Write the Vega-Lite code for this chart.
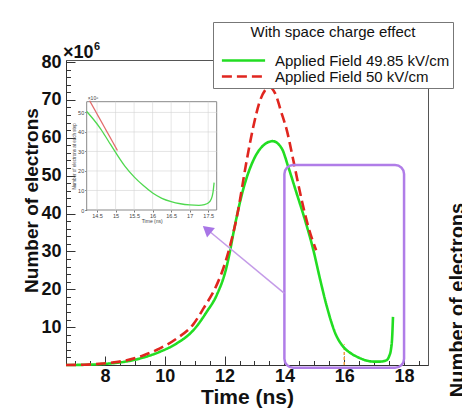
{
  "$schema": "https://vega.github.io/schema/vega-lite/v6.json",
  "autosize": "none",
  "width": 362,
  "height": 305,
  "padding": {"left": 66, "top": 60, "right": 34, "bottom": 44},
  "background": "#ffffff",
  "config": {
    "view": {"stroke": "#555555", "strokeWidth": 1},
    "font": "Liberation Sans",
    "axis": {"labelFont": "Liberation Sans", "titleFont": "Liberation Sans", "grid": false, "domainColor": "#333333", "tickColor": "#333333"}
  },
  "datasets": {
    "one": [{}],
    "main": [
      {"t": 6.7, "n": 0, "s": "Applied Field 49.85 kV/cm"},
      {"t": 7.3, "n": 0.05, "s": "Applied Field 49.85 kV/cm"},
      {"t": 7.8, "n": 0.2, "s": "Applied Field 49.85 kV/cm"},
      {"t": 8.3, "n": 0.5, "s": "Applied Field 49.85 kV/cm"},
      {"t": 8.7, "n": 0.9, "s": "Applied Field 49.85 kV/cm"},
      {"t": 9.3, "n": 2.0, "s": "Applied Field 49.85 kV/cm"},
      {"t": 9.84, "n": 3.5, "s": "Applied Field 49.85 kV/cm"},
      {"t": 10.4, "n": 5.7, "s": "Applied Field 49.85 kV/cm"},
      {"t": 10.96, "n": 9.2, "s": "Applied Field 49.85 kV/cm"},
      {"t": 11.4, "n": 14, "s": "Applied Field 49.85 kV/cm"},
      {"t": 11.74, "n": 18.5, "s": "Applied Field 49.85 kV/cm"},
      {"t": 12.07, "n": 26, "s": "Applied Field 49.85 kV/cm"},
      {"t": 12.18, "n": 30, "s": "Applied Field 49.85 kV/cm"},
      {"t": 12.3, "n": 35, "s": "Applied Field 49.85 kV/cm"},
      {"t": 12.61, "n": 46, "s": "Applied Field 49.85 kV/cm"},
      {"t": 12.96, "n": 54, "s": "Applied Field 49.85 kV/cm"},
      {"t": 13.3, "n": 58, "s": "Applied Field 49.85 kV/cm"},
      {"t": 13.61, "n": 59.1, "s": "Applied Field 49.85 kV/cm"},
      {"t": 13.91, "n": 57.2, "s": "Applied Field 49.85 kV/cm"},
      {"t": 14.13, "n": 52.3, "s": "Applied Field 49.85 kV/cm"},
      {"t": 14.41, "n": 45.3, "s": "Applied Field 49.85 kV/cm"},
      {"t": 14.7, "n": 38, "s": "Applied Field 49.85 kV/cm"},
      {"t": 14.97, "n": 30.3, "s": "Applied Field 49.85 kV/cm"},
      {"t": 15.2, "n": 22.4, "s": "Applied Field 49.85 kV/cm"},
      {"t": 15.42, "n": 15.4, "s": "Applied Field 49.85 kV/cm"},
      {"t": 15.7, "n": 8.4, "s": "Applied Field 49.85 kV/cm"},
      {"t": 15.97, "n": 4.8, "s": "Applied Field 49.85 kV/cm"},
      {"t": 16.2, "n": 3.2, "s": "Applied Field 49.85 kV/cm"},
      {"t": 16.42, "n": 2.2, "s": "Applied Field 49.85 kV/cm"},
      {"t": 16.97, "n": 0.9, "s": "Applied Field 49.85 kV/cm"},
      {"t": 17.2, "n": 0.9, "s": "Applied Field 49.85 kV/cm"},
      {"t": 17.42, "n": 1.3, "s": "Applied Field 49.85 kV/cm"},
      {"t": 17.5, "n": 2.3, "s": "Applied Field 49.85 kV/cm"},
      {"t": 17.56, "n": 4, "s": "Applied Field 49.85 kV/cm"},
      {"t": 17.6, "n": 7, "s": "Applied Field 49.85 kV/cm"},
      {"t": 17.63, "n": 12.7, "s": "Applied Field 49.85 kV/cm"},
      {"t": 6.7, "n": 0, "s": "Applied Field 50 kV/cm"},
      {"t": 7.3, "n": 0.08, "s": "Applied Field 50 kV/cm"},
      {"t": 7.8, "n": 0.3, "s": "Applied Field 50 kV/cm"},
      {"t": 8.3, "n": 0.7, "s": "Applied Field 50 kV/cm"},
      {"t": 8.7, "n": 1.2, "s": "Applied Field 50 kV/cm"},
      {"t": 9.3, "n": 2.6, "s": "Applied Field 50 kV/cm"},
      {"t": 9.84, "n": 4.4, "s": "Applied Field 50 kV/cm"},
      {"t": 10.4, "n": 7, "s": "Applied Field 50 kV/cm"},
      {"t": 10.96, "n": 10.8, "s": "Applied Field 50 kV/cm"},
      {"t": 11.3, "n": 15, "s": "Applied Field 50 kV/cm"},
      {"t": 11.7, "n": 20.5, "s": "Applied Field 50 kV/cm"},
      {"t": 12.0, "n": 26.5, "s": "Applied Field 50 kV/cm"},
      {"t": 12.2, "n": 32, "s": "Applied Field 50 kV/cm"},
      {"t": 12.41, "n": 39.1, "s": "Applied Field 50 kV/cm"},
      {"t": 12.74, "n": 54, "s": "Applied Field 50 kV/cm"},
      {"t": 12.96, "n": 62.9, "s": "Applied Field 50 kV/cm"},
      {"t": 13.19, "n": 69.9, "s": "Applied Field 50 kV/cm"},
      {"t": 13.36, "n": 72.6, "s": "Applied Field 50 kV/cm"},
      {"t": 13.5, "n": 73.4, "s": "Applied Field 50 kV/cm"},
      {"t": 13.69, "n": 71.7, "s": "Applied Field 50 kV/cm"},
      {"t": 13.91, "n": 66.4, "s": "Applied Field 50 kV/cm"},
      {"t": 14.08, "n": 62, "s": "Applied Field 50 kV/cm"},
      {"t": 14.3, "n": 54, "s": "Applied Field 50 kV/cm"},
      {"t": 14.58, "n": 43.5, "s": "Applied Field 50 kV/cm"},
      {"t": 14.8, "n": 36.5, "s": "Applied Field 50 kV/cm"},
      {"t": 15.06, "n": 30.3, "s": "Applied Field 50 kV/cm"}
    ],
    "inset_green": [
      {"t": 14.22, "n": 50.5}, {"t": 14.4, "n": 46.5}, {"t": 14.6, "n": 41.5}, {"t": 14.8, "n": 35.5},
      {"t": 15.0, "n": 29.5}, {"t": 15.25, "n": 22.5}, {"t": 15.5, "n": 17}, {"t": 15.75, "n": 12.5},
      {"t": 16.0, "n": 8.7}, {"t": 16.25, "n": 6}, {"t": 16.5, "n": 4.3}, {"t": 16.75, "n": 3.2},
      {"t": 17.0, "n": 2.6}, {"t": 17.25, "n": 2.4}, {"t": 17.4, "n": 2.8}, {"t": 17.5, "n": 3.6},
      {"t": 17.58, "n": 5.5}, {"t": 17.63, "n": 9}, {"t": 17.66, "n": 14}
    ],
    "inset_red": [
      {"t": 14.3, "n": 56}, {"t": 15.05, "n": 30.5}
    ],
    "xgrid": [{"g": 14.5}, {"g": 15}, {"g": 15.5}, {"g": 16}, {"g": 16.5}, {"g": 17}, {"g": 17.5}],
    "ygrid": [{"g": 10}, {"g": 20}, {"g": 30}, {"g": 40}, {"g": 50}]
  },
  "layer": [
    {
      "layer": [
        {
          "data": {"name": "one"},
          "mark": {"type": "rule", "color": "#f0a040", "strokeDash": [3, 2], "strokeWidth": 1.5},
          "encoding": {
            "x": {"datum": 16, "type": "quantitative", "scale": {"domain": [6.7, 18.8], "nice": false, "zero": false},
              "axis": {"orient": "bottom", "offset": -4.5, "values": [7, 7.5, 8, 8.5, 9, 9.5, 10, 10.5, 11, 11.5, 12, 12.5, 13, 13.5, 14, 14.5, 15, 15.5, 16, 16.5, 17, 17.5, 18, 18.5], "labels": false, "domain": false, "tickSize": 4.5, "tickWidth": 1, "tickColor": "#333333", "title": null}},
            "y": {"datum": 0, "type": "quantitative", "scale": {"domain": [0, 80.53], "nice": false, "zero": false},
              "axis": {"orient": "left", "offset": -4.5, "values": [2, 4, 6, 8, 12, 14, 16, 18, 22, 24, 26, 28, 32, 34, 36, 38, 42, 44, 46, 48, 52, 54, 56, 58, 62, 64, 66, 68, 72, 74, 76, 78], "labels": false, "domain": false, "tickSize": 4.5, "tickWidth": 1, "tickColor": "#333333", "title": null}},
            "y2": {"datum": 5.5}
          }
        },
        {
          "data": {"name": "main"},
          "mark": {"type": "line", "interpolate": "monotone", "strokeWidth": 2.6},
          "encoding": {
            "x": {"field": "t", "type": "quantitative", "scale": {"domain": [6.7, 18.8], "nice": false, "zero": false},
              "axis": {"orient": "bottom", "values": [8, 10, 12, 14, 16, 18], "format": "d", "ticks": false, "tickSize": 0, "labelFontSize": 18, "labelFontWeight": "bold", "labelColor": "#111111", "labelPadding": 2, "labelOverlap": false, "labelFlush": false,
                "title": "Time (ns)", "titleFontSize": 21, "titleFontWeight": "bold", "titleColor": "#111111", "titleY": 38, "titleBaseline": "alphabetic"}},
            "y": {"field": "n", "type": "quantitative", "scale": {"domain": [0, 80.53], "nice": false, "zero": false},
              "axis": {"orient": "left", "values": [10, 20, 30, 40, 50, 60, 70, 80], "format": "d", "ticks": false, "tickSize": 0, "labelFontSize": 18, "labelFontWeight": "bold", "labelColor": "#111111", "labelPadding": 5, "labelOverlap": false, "labelFlush": false,
                "title": "Number of electrons", "titleFontSize": 19, "titleFontWeight": "bold", "titleColor": "#111111", "titleX": -35, "titleY": 140, "titleAngle": 270, "titleAlign": "center", "titleBaseline": "middle"}},
            "color": {"field": "s", "type": "nominal",
              "scale": {"domain": ["Applied Field 49.85 kV/cm", "Applied Field 50 kV/cm"], "range": ["#22dd22", "#e0261f"]},
              "legend": {"title": "With space charge effect", "orient": "none", "legendX": 147, "legendY": -38, "titleAnchor": "middle", "titleFontSize": 15, "titleFontWeight": "normal", "titleFont": "Liberation Sans", "titleColor": "#111111", "titlePadding": 13, "labelFontSize": 15, "labelFont": "Liberation Sans", "labelColor": "#111111", "labelOffset": 24, "labelLimit": 400, "symbolType": "M-3.6,0H3.6", "symbolSize": 144, "symbolStrokeWidth": 2.5, "symbolOffset": 20, "padding": 3, "rowPadding": 0, "fillColor": "#ffffff", "strokeColor": "#777777"}},
            "strokeDash": {"field": "s", "type": "nominal",
              "scale": {"domain": ["Applied Field 49.85 kV/cm", "Applied Field 50 kV/cm"], "range": [[1, 0], [10, 5]]},
              "legend": {"title": "With space charge effect", "orient": "none", "legendX": 147, "legendY": -38, "titleAnchor": "middle", "titleFontSize": 15, "titleFontWeight": "normal", "titleFont": "Liberation Sans", "titleColor": "#111111", "titlePadding": 13, "labelFontSize": 15, "labelFont": "Liberation Sans", "labelColor": "#111111", "labelOffset": 24, "labelLimit": 400, "symbolType": "M-3.6,0H3.6", "symbolSize": 144, "symbolStrokeWidth": 2.5, "symbolOffset": 20, "padding": 3, "rowPadding": 0, "fillColor": "#ffffff", "strokeColor": "#777777"}}
          }
        },
        {
          "data": {"name": "one"},
          "mark": {"type": "rect", "filled": false, "color": "#b07de8", "strokeWidth": 2.5, "cornerRadius": 9},
          "encoding": {
            "x": {"datum": 14, "type": "quantitative", "scale": {"domain": [6.7, 18.8], "nice": false, "zero": false},
              "axis": {"orient": "bottom", "offset": -9, "values": [8, 10, 12, 14, 16, 18], "labels": false, "domain": false, "tickSize": 9, "tickWidth": 1, "tickColor": "#333333", "title": null}},
            "x2": {"datum": 18},
            "y": {"datum": -0.7, "type": "quantitative", "scale": {"domain": [0, 80.53], "nice": false, "zero": false},
              "axis": {"orient": "left", "offset": -9, "values": [10, 20, 30, 40, 50, 60, 70, 80], "labels": false, "domain": false, "tickSize": 9, "tickWidth": 1, "tickColor": "#333333", "title": null}},
            "y2": {"datum": 52.8}
          }
        },
        {
          "data": {"name": "one"},
          "mark": {"type": "rule", "color": "#c49be8", "strokeWidth": 1.5},
          "encoding": {
            "x": {"datum": 14, "type": "quantitative", "scale": {"domain": [6.7, 18.8], "nice": false, "zero": false}, "axis": null},
            "x2": {"datum": 11.41},
            "y": {"datum": 18.9, "type": "quantitative", "scale": {"domain": [0, 80.53], "nice": false, "zero": false}, "axis": null},
            "y2": {"datum": 35.83}
          }
        },
        {
          "data": {"name": "one"},
          "mark": {"type": "point", "shape": "triangle-up", "filled": true, "color": "#a875e6", "size": 150, "angle": 310, "opacity": 1},
          "encoding": {
            "x": {"datum": 11.41, "type": "quantitative", "scale": {"domain": [6.7, 18.8], "nice": false, "zero": false}, "axis": null},
            "y": {"datum": 35.83, "type": "quantitative", "scale": {"domain": [0, 80.53], "nice": false, "zero": false}, "axis": null}
          }
        },
        {
          "data": {"name": "one"},
          "mark": {"type": "text", "text": "×10", "align": "left", "baseline": "alphabetic", "dx": -3, "dy": -2, "fontSize": 18, "fontWeight": "bold", "color": "#111111"},
          "encoding": {
            "x": {"datum": 6.7, "type": "quantitative", "scale": {"domain": [6.7, 18.8], "nice": false, "zero": false}, "axis": null},
            "y": {"datum": 80.53, "type": "quantitative", "scale": {"domain": [0, 80.53], "nice": false, "zero": false}, "axis": null}
          }
        },
        {
          "data": {"name": "one"},
          "mark": {"type": "text", "text": "6", "align": "left", "baseline": "alphabetic", "dx": 28, "dy": -10, "fontSize": 11, "fontWeight": "bold", "color": "#111111"},
          "encoding": {
            "x": {"datum": 6.7, "type": "quantitative", "scale": {"domain": [6.7, 18.8], "nice": false, "zero": false}, "axis": null},
            "y": {"datum": 80.53, "type": "quantitative", "scale": {"domain": [0, 80.53], "nice": false, "zero": false}, "axis": null}
          }
        },
        {
          "data": {"name": "one"},
          "mark": {"type": "text", "text": "Number of electrons", "angle": 270, "align": "center", "baseline": "middle", "fontSize": 20, "fontWeight": "bold", "color": "#111111"},
          "encoding": {
            "x": {"datum": 19.81, "type": "quantitative", "scale": {"domain": [6.7, 18.8], "nice": false, "zero": false}, "axis": null},
            "y": {"datum": 17.15, "type": "quantitative", "scale": {"domain": [0, 80.53], "nice": false, "zero": false}, "axis": null}
          }
        }
      ],
      "resolve": {"axis": {"x": "independent", "y": "independent"}}
    },
    {
      "layer": [
        {
          "data": {"name": "one"},
          "mark": {"type": "rect", "fill": "#ffffff", "stroke": "#888888", "strokeWidth": 1},
          "encoding": {
            "x": {"datum": 14.22, "type": "quantitative", "scale": {"domain": [14.22, 17.73], "range": [20.7, 150.7], "nice": false, "zero": false}, "axis": null},
            "x2": {"datum": 17.73},
            "y": {"datum": 0, "type": "quantitative", "scale": {"domain": [0, 55.5], "range": [150, 41.7], "nice": false, "zero": false}, "axis": null},
            "y2": {"datum": 55.5}
          }
        },
        {
          "data": {"name": "xgrid"},
          "mark": {"type": "rule", "color": "#d4d4d4", "strokeWidth": 0.6},
          "encoding": {
            "x": {"field": "g", "type": "quantitative", "scale": {"domain": [14.22, 17.73], "range": [20.7, 150.7], "nice": false, "zero": false}, "axis": null},
            "y": {"datum": 0, "type": "quantitative", "scale": {"domain": [0, 55.5], "range": [150, 41.7], "nice": false, "zero": false}, "axis": null},
            "y2": {"datum": 55.5}
          }
        },
        {
          "data": {"name": "ygrid"},
          "mark": {"type": "rule", "color": "#d4d4d4", "strokeWidth": 0.6},
          "encoding": {
            "y": {"field": "g", "type": "quantitative", "scale": {"domain": [0, 55.5], "range": [150, 41.7], "nice": false, "zero": false}, "axis": null},
            "x": {"datum": 14.22, "type": "quantitative", "scale": {"domain": [14.22, 17.73], "range": [20.7, 150.7], "nice": false, "zero": false}, "axis": null},
            "x2": {"datum": 17.73}
          }
        },
        {
          "data": {"name": "inset_green"},
          "mark": {"type": "line", "interpolate": "monotone", "color": "#4fd84f", "strokeWidth": 1.3},
          "encoding": {
            "x": {"field": "t", "type": "quantitative", "scale": {"domain": [14.22, 17.73], "range": [20.7, 150.7], "nice": false, "zero": false},
              "axis": {"orient": "bottom", "offset": -155, "values": [14.5, 15, 15.5, 16, 16.5, 17, 17.5], "format": "~g", "labelFontSize": 5.5, "labelColor": "#444444", "labelPadding": 1, "tickSize": 2, "tickColor": "#777777", "domain": false, "labelOverlap": false, "labelFlush": false,
                "title": "Time (ns)", "titleFontSize": 5, "titleFontWeight": "normal", "titleColor": "#444444", "titlePadding": 0}},
            "y": {"field": "n", "type": "quantitative", "scale": {"domain": [0, 55.5], "range": [150, 41.7], "nice": false, "zero": false},
              "axis": {"orient": "left", "offset": -20.7, "values": [0, 10, 20, 30, 40, 50], "format": "d", "labelFontSize": 5.5, "labelColor": "#444444", "labelPadding": 1, "tickSize": 2, "tickColor": "#777777", "domain": false, "labelOverlap": false, "labelFlush": false,
                "title": "Number of electrons at each step", "titleFontSize": 4.5, "titleFontWeight": "normal", "titleColor": "#444444", "titlePadding": 1}}
          }
        },
        {
          "data": {"name": "inset_red"},
          "mark": {"type": "line", "color": "#e26a6a", "strokeWidth": 1.3},
          "encoding": {
            "x": {"field": "t", "type": "quantitative", "scale": {"domain": [14.22, 17.73], "range": [20.7, 150.7], "nice": false, "zero": false}, "axis": null},
            "y": {"field": "n", "type": "quantitative", "scale": {"domain": [0, 55.5], "range": [150, 41.7], "nice": false, "zero": false}, "axis": null}
          }
        },
        {
          "data": {"name": "one"},
          "mark": {"type": "text", "text": "×10⁶", "align": "left", "baseline": "bottom", "dx": 1, "dy": -0.5, "fontSize": 5, "color": "#444444"},
          "encoding": {
            "x": {"datum": 14.22, "type": "quantitative", "scale": {"domain": [14.22, 17.73], "range": [20.7, 150.7], "nice": false, "zero": false}, "axis": null},
            "y": {"datum": 55.5, "type": "quantitative", "scale": {"domain": [0, 55.5], "range": [150, 41.7], "nice": false, "zero": false}, "axis": null}
          }
        }
      ],
      "resolve": {"axis": {"x": "independent", "y": "independent"}}
    }
  ],
  "resolve": {"scale": {"x": "independent", "y": "independent"}}
}
